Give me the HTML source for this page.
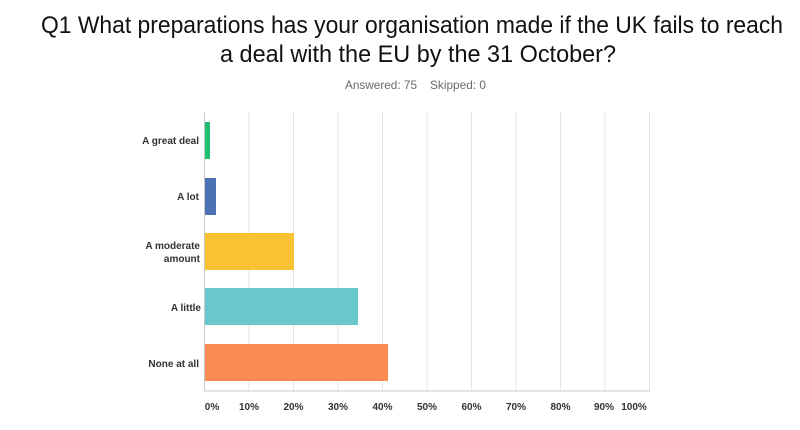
<!DOCTYPE html>
<html><head><meta charset="utf-8"><style>html,body{margin:0;padding:0;background:#fff;}</style></head>
<body>
<svg width="800" height="425" xmlns="http://www.w3.org/2000/svg" font-family="Liberation Sans, sans-serif">
<rect width="800" height="425" fill="#fff"/>
<text x="41" y="33" font-size="24" textLength="742" lengthAdjust="spacingAndGlyphs" fill="#111">Q1 What preparations has your organisation made if the UK fails to reach</text>
<text x="220" y="62" font-size="24" textLength="396" lengthAdjust="spacingAndGlyphs" fill="#111">a deal with the EU by the 31 October?</text>
<text x="345" y="89" font-size="12" textLength="72" lengthAdjust="spacingAndGlyphs" fill="#6b6b6b">Answered: 75</text>
<text x="430" y="89" font-size="12" textLength="56" lengthAdjust="spacingAndGlyphs" fill="#6b6b6b">Skipped: 0</text>
<g stroke="#e4e4e4" stroke-width="1">
<line x1="249" y1="112" x2="249" y2="391"/><line x1="293.5" y1="112" x2="293.5" y2="391"/>
<line x1="338" y1="112" x2="338" y2="391"/><line x1="382.5" y1="112" x2="382.5" y2="391"/>
<line x1="427" y1="112" x2="427" y2="391"/><line x1="471.5" y1="112" x2="471.5" y2="391"/>
<line x1="516" y1="112" x2="516" y2="391"/><line x1="560.5" y1="112" x2="560.5" y2="391"/>
<line x1="605" y1="112" x2="605" y2="391"/><line x1="649.5" y1="112" x2="649.5" y2="391"/>
</g>
<line x1="204.5" y1="112" x2="204.5" y2="391" stroke="#c8c8c8"/>
<line x1="204.5" y1="391" x2="650" y2="391" stroke="#c8c8c8"/>
<rect x="205" y="122" width="5" height="37" fill="#1fbf72"/>
<rect x="205" y="178" width="11" height="37" fill="#4e70b4"/>
<rect x="205" y="233" width="89" height="37" fill="#f8c232"/>
<rect x="205" y="288" width="153" height="37" fill="#68c8cc"/>
<rect x="205" y="344" width="183" height="37" fill="#fd8c52"/>
<g font-size="10" font-weight="bold" fill="#333" text-anchor="end">
<text x="199" y="144">A great deal</text>
<text x="199" y="200">A lot</text>
<text x="200" y="249">A moderate</text>
<text x="200" y="262">amount</text>
<text x="201" y="311">A little</text>
<text x="199" y="367">None at all</text>
</g>
<g font-size="10" font-weight="bold" fill="#333" text-anchor="middle">
<text x="212" y="410">0%</text><text x="249" y="410">10%</text><text x="293.5" y="410">20%</text>
<text x="338" y="410">30%</text><text x="382.5" y="410">40%</text><text x="427" y="410">50%</text>
<text x="471.5" y="410">60%</text><text x="516" y="410">70%</text><text x="560.5" y="410">80%</text>
<text x="604" y="410">90%</text><text x="634" y="410">100%</text>
</g>
</svg>
</body></html>
